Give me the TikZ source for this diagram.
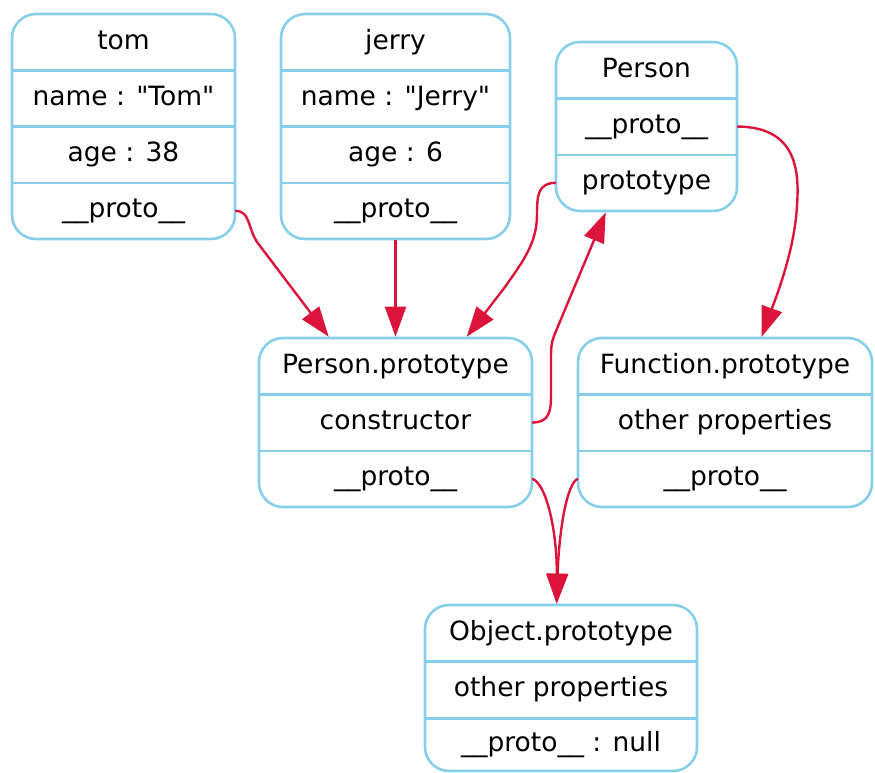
\documentclass[tikz,border=0pt]{standalone}
\usepackage{fontspec}
\setmainfont{DejaVu Sans}
\usetikzlibrary{calc,arrows.meta}
\definecolor{boxblue}{RGB}{135,206,235}
\definecolor{arrred}{RGB}{220,20,60}
\tikzset{
  outline/.style={draw=boxblue, line width=2.6pt, rounded corners=24pt, inner sep=0pt, rectangle},
  cell/.style={inner sep=0pt, font=\fontsize{26.5}{30}\selectfont, text height=18pt, text depth=4pt},
  sepline/.style={draw=boxblue, line width=2.6pt},
  link/.style={draw=arrred, line width=2.4pt, -{Triangle[length=30pt,width=21pt]}},
}
\begin{document}
\begin{tikzpicture}[x=1pt,y=-1pt]
\useasboundingbox (0,0) rectangle (875,772);

% tom
\node[outline, minimum width=223pt, minimum height=225pt] (tom) at (123.5,126.5) {};
\begin{scope}[every node/.style={cell, minimum width=223pt, minimum height=56.25pt}]
\node (tom1) at (123.5,42.1) {tom};
\node (tom2) at (123.5,98.4) {name : \textquotedbl Tom\textquotedbl};
\node (tom3) at (123.5,154.6) {age : 38};
\node (tom4) at (123.5,210.9) {\_\_proto\_\_};
\end{scope}
\draw[sepline] (tom1.south west) -- (tom1.south east);
\draw[sepline] (tom2.south west) -- (tom2.south east);
\draw[sepline] (tom3.south west) -- (tom3.south east);

% jerry
\node[outline, minimum width=229pt, minimum height=225pt] (jerry) at (395.5,126.5) {};
\begin{scope}[every node/.style={cell, minimum width=229pt, minimum height=56.25pt}]
\node (jerry1) at (395.5,42.1) {jerry};
\node (jerry2) at (395.5,98.4) {name : \textquotedbl Jerry\textquotedbl};
\node (jerry3) at (395.5,154.6) {age : 6};
\node (jerry4) at (395.5,210.9) {\_\_proto\_\_};
\end{scope}
\draw[sepline] (jerry1.south west) -- (jerry1.south east);
\draw[sepline] (jerry2.south west) -- (jerry2.south east);
\draw[sepline] (jerry3.south west) -- (jerry3.south east);

% Person
\node[outline, minimum width=181pt, minimum height=169pt] (person) at (646.5,126.5) {};
\begin{scope}[every node/.style={cell, minimum width=181pt, minimum height=56.33pt}]
\node (person1) at (646.5,70.2) {Person};
\node (person2) at (646.5,126.5) {\_\_proto\_\_};
\node (person3) at (646.5,182.8) {prototype};
\end{scope}
\draw[sepline] (person1.south west) -- (person1.south east);
\draw[sepline] (person2.south west) -- (person2.south east);

% Person.prototype
\node[outline, minimum width=273pt, minimum height=169pt] (pp) at (395.5,422.5) {};
\begin{scope}[every node/.style={cell, minimum width=273pt, minimum height=56.33pt}]
\node (pp1) at (395.5,366.2) {Person.prototype};
\node (pp2) at (395.5,422.5) {constructor};
\node (pp3) at (395.5,478.8) {\_\_proto\_\_};
\end{scope}
\draw[sepline] (pp1.south west) -- (pp1.south east);
\draw[sepline] (pp2.south west) -- (pp2.south east);

% Function.prototype
\node[outline, minimum width=294pt, minimum height=169pt] (fp) at (725,422.5) {};
\begin{scope}[every node/.style={cell, minimum width=294pt, minimum height=56.33pt}]
\node (fp1) at (725,366.2) {Function.prototype};
\node (fp2) at (725,422.5) {other properties};
\node (fp3) at (725,478.8) {\_\_proto\_\_};
\end{scope}
\draw[sepline] (fp1.south west) -- (fp1.south east);
\draw[sepline] (fp2.south west) -- (fp2.south east);

% Object.prototype
\node[outline, minimum width=272pt, minimum height=166pt] (op) at (561,688) {};
\node[cell, minimum width=272pt, minimum height=56pt] (op1) at (561,633) {Object.prototype};
\node[cell, minimum width=272pt, minimum height=57pt] (op2) at (561,689.5) {other properties};
\node[cell, minimum width=272pt, minimum height=53pt] (op3) at (561,744.5) {\_\_proto\_\_ : null};
\draw[sepline] (op1.south west) -- (op1.south east);
\draw[sepline] (op2.south west) -- (op2.south east);

% links
\draw[link] (tom4.east) .. controls +(15,0) and (247,226) .. (257,242) -- ($(pp.north west)+(71,0)$);
\draw[link] (jerry.south) -- (pp.north);
\draw[link] (person3.west) .. controls (538,183) and (537,195) .. (537,215)
  .. controls (537,245) and (520,265) .. (505,287) -- ($(pp.north west)+(209,0)$);
\draw[link] (pp2.east) .. controls (549,422.5) and (551,412) .. (551,395) -- (551,355)
  .. controls (551,343) and (553,338) .. (556,331) -- ($(person.south west)+(51,0)$);
\draw[link] (person2.east) .. controls (793,127) and (800,165) .. (797,205)
  .. controls (795,250) and (775,300) .. ($(fp.north west)+(185,0)$);
\draw[link] (pp3.east) .. controls (546,483) and (557,530) .. ($(op.north west)+(133,0)$);
\draw[link] (fp3.west) .. controls (567,483) and (559,530) .. ($(op.north west)+(133,0)$);
\end{tikzpicture}
\end{document}
